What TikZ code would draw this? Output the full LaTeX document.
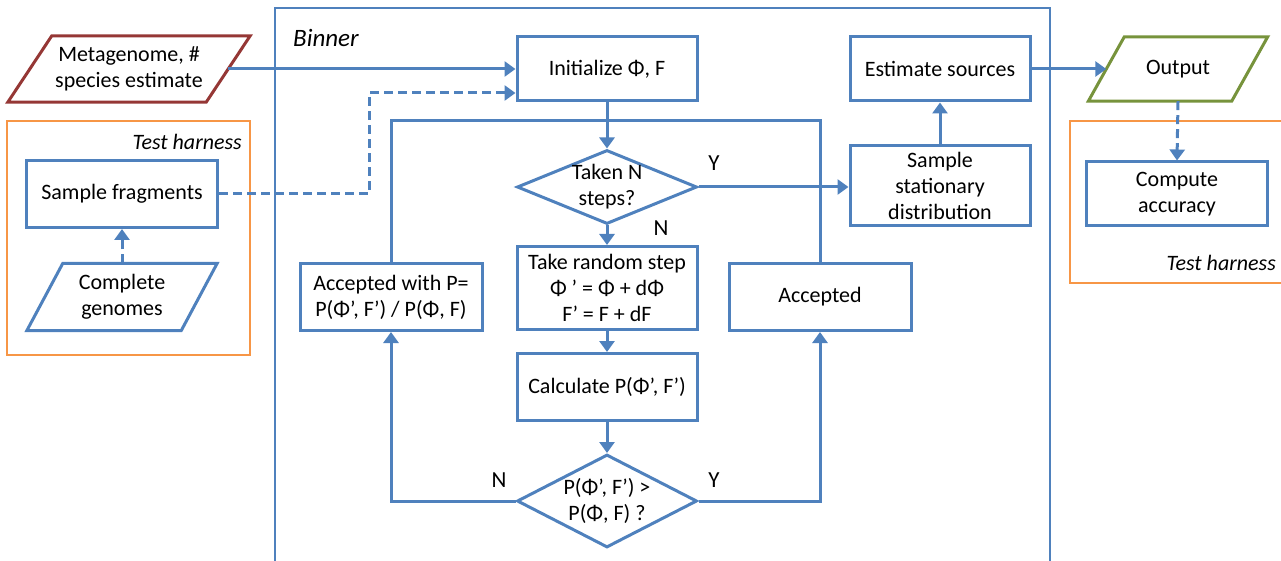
\documentclass[tikz,border=0pt]{standalone}
\usepackage{fontspec}
\setmainfont{Carlito}
\usetikzlibrary{shapes,arrows.meta,positioning,calc}
\definecolor{boxblue}{RGB}{79,129,189}
\definecolor{harnessorange}{RGB}{247,150,70}
\definecolor{inputred}{RGB}{149,55,53}
\definecolor{outputgreen}{RGB}{119,147,60}
% slanted frame round an input/output node: node, colour, slant
\newcommand{\ioframe}[3]{\draw[#2, line width=3pt] ([xshift=-#3pt]#1.south west) -- ([xshift=#3pt]#1.north west) -- ([xshift=#3pt]#1.north east) -- ([xshift=-#3pt]#1.south east) -- cycle;}

\begin{document}
\begin{tikzpicture}[x=1pt, y=-1pt,
    font=\fontsize{22}{26}\selectfont,
    block/.style={draw=boxblue, line width=3pt, minimum width=180pt, minimum height=64pt, align=center, inner sep=2pt},
    io/.style={minimum height=66pt, align=center, inner sep=2pt},
    decision/.style={diamond, draw=boxblue, line width=3pt, minimum width=180pt, align=center, inner xsep=0pt, inner ysep=-4pt},
    flow/.style={draw=boxblue, line width=3pt, -{Triangle[length=11pt, width=15pt]}},
    testflow/.style={flow, dash pattern=on 9pt off 5pt},
    link/.style={draw=boxblue, line width=3pt},
    frame/.style={draw=boxblue, line width=1.4pt},
    harness/.style={draw=harnessorange, line width=1.4pt},
    branch/.style={font=\fontsize{23}{26}\selectfont},
    tag/.style={font=\fontsize{22}{26}\selectfont\itshape, inner sep=0pt}]
    \useasboundingbox (0,0) rectangle (1281,561);

    % Frames
    \draw[frame] (275,561) -- (275,8) -- (1050,8) -- (1050,561);
    \node[tag, anchor=west, font=\fontsize{25}{26}\selectfont\itshape] (binnertag) at (293,38) {Binner};
    \draw[harness] (7,121) rectangle (250,355);
    \node[tag, anchor=east] (lefttag) at (242,142) {Test harness};
    \draw[harness] (1281,121) -- (1070,121) -- (1070,283) -- (1281,283);
    \node[tag, anchor=east] (righttag) at (1276,263) {Test harness};

    % Inputs and test harness
    \node[io, minimum width=198pt] (meta) at (129,69) {Metagenome, \#\\species estimate};
    \ioframe{meta}{inputred}{22}
    \node[block, minimum width=191pt, minimum height=67pt] (frag) at (122,194) {Sample fragments};
    \node[io, minimum width=154pt, minimum height=67pt] (genomes) at (122,297) {Complete\\genomes};
    \ioframe{genomes}{boxblue}{18}

    % Sampler
    \node[block] (init) at (607,69) {Initialize Φ, F};
    \node[decision, shape aspect=2.43, minimum height=74pt] (taken) at (607,187) {Taken N\\steps?};
    \node[block, minimum height=83pt] (take) at (607,288) {Take random step\\Φ ’ = Φ + dΦ\\F’ = F + dF};
    \node[block, minimum height=67pt] (calc) at (607,387) {Calculate P(Φ’, F’)};
    \node[decision, shape aspect=1.94, minimum height=93pt] (cmp) at (607,501) {P(Φ’, F’) >\\P(Φ, F) ?};
    \node[block, minimum width=182pt, minimum height=67pt] (accp) at (391,297) {Accepted with P=\\P(Φ’, F’) / P(Φ, F)};
    \node[block, minimum width=182pt, minimum height=67pt] (accd) at (820,297) {Accepted};
    \node[block, minimum height=80pt] (stat) at (940,186) {Sample\\stationary\\distribution};
    \node[block] (est) at (940,69) {Estimate sources};

    % Output
    \node[io, minimum width=143pt, minimum height=64pt] (out) at (1178,69) {Output};
    \ioframe{out}{outputgreen}{18}
    \node[block, minimum width=181pt] (acc) at (1177,194) {Compute\\accuracy};

    % Branch labels
    \node[branch] (yes1) at (714,163) {Y};
    \node[branch] (no1) at (661,228) {N};
    \node[branch] (no2) at (499,480) {N};
    \node[branch] (yes2) at (714,480) {Y};

    % Connectors
    \coordinate (loop) at (607,121);
    \draw[flow] (meta.east) -- (init.west);
    \draw[testflow] (frag.east) -- ++(150,0) |- ([yshift=-24pt]init.west);
    \draw[testflow] (genomes.north) -- (frag.south);
    \draw[link] (accp.north) |- (loop) -| (accd.north);
    \draw[flow] (init.south) -- (taken.north);
    \draw[flow] (taken.south) -- (take.north);
    \draw[flow] (take.south) -- (calc.north);
    \draw[flow] (calc.south) -- (cmp.north);
    \draw[flow] (cmp.west) -| (accp.south);
    \draw[flow] (cmp.east) -| (accd.south);
    \draw[flow] (taken.east) -- (taken.east -| stat.west);
    \draw[flow] (stat.north) -- (est.south);
    \draw[flow] (est.east) -- (out.west);
    \draw[testflow] (out.south) -- (acc.north);
\end{tikzpicture}
\end{document}
